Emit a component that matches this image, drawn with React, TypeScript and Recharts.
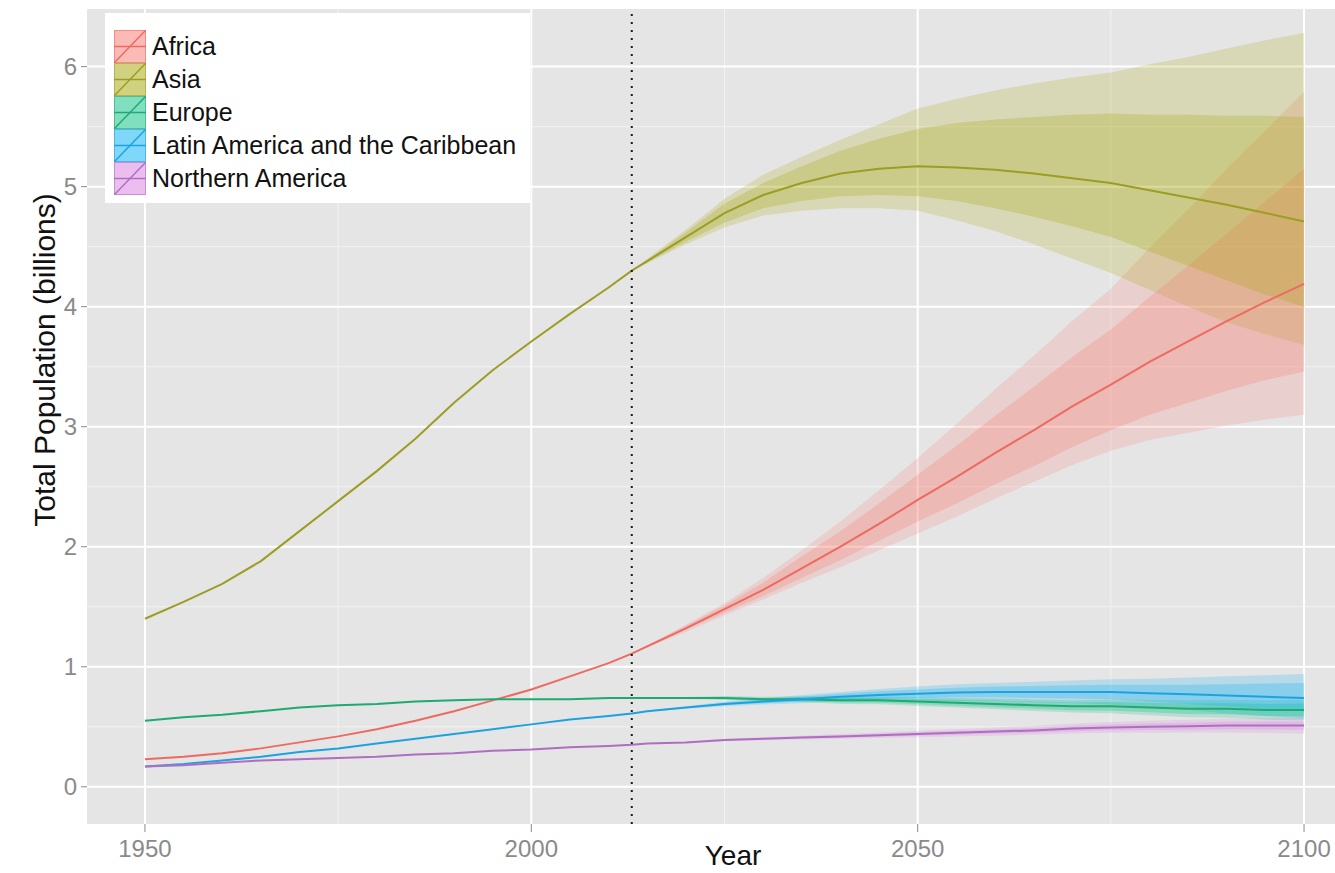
import { ComposedChart, Area, Line, XAxis, YAxis, CartesianGrid, ReferenceLine, Label } from 'recharts'

// years shown on the x axis (history + projection)
const years = [1950, 1955, 1960, 1965, 1970, 1975, 1980, 1985, 1990, 1995, 2000, 2005, 2010, 2013, 2015, 2020, 2025, 2030, 2035, 2040, 2045, 2050, 2055, 2060, 2065, 2070, 2075, 2080, 2085, 2090, 2095, 2100]

// median population, billions
const africa = [0.23, 0.25, 0.28, 0.32, 0.37, 0.42, 0.48, 0.55, 0.63, 0.72, 0.81, 0.92, 1.03, 1.11, 1.17, 1.32, 1.48, 1.64, 1.82, 2.0, 2.19, 2.39, 2.58, 2.78, 2.97, 3.17, 3.35, 3.54, 3.71, 3.88, 4.04, 4.19]
const asia = [1.4, 1.54, 1.69, 1.88, 2.13, 2.38, 2.63, 2.9, 3.2, 3.47, 3.71, 3.94, 4.16, 4.3, 4.38, 4.58, 4.78, 4.93, 5.03, 5.11, 5.15, 5.17, 5.16, 5.14, 5.11, 5.07, 5.03, 4.97, 4.91, 4.85, 4.78, 4.71]
const europe = [0.55, 0.58, 0.6, 0.63, 0.66, 0.68, 0.69, 0.71, 0.72, 0.73, 0.73, 0.73, 0.74, 0.74, 0.74, 0.74, 0.74, 0.73, 0.73, 0.72, 0.72, 0.71, 0.7, 0.69, 0.68, 0.67, 0.67, 0.66, 0.65, 0.65, 0.64, 0.64]
const latinAmerica = [0.17, 0.19, 0.22, 0.25, 0.29, 0.32, 0.36, 0.4, 0.44, 0.48, 0.52, 0.56, 0.59, 0.61, 0.63, 0.66, 0.69, 0.71, 0.73, 0.75, 0.765, 0.775, 0.785, 0.79, 0.79, 0.79, 0.79, 0.78, 0.77, 0.76, 0.75, 0.74]
const northernAmerica = [0.17, 0.18, 0.2, 0.22, 0.23, 0.24, 0.25, 0.27, 0.28, 0.3, 0.31, 0.33, 0.34, 0.35, 0.36, 0.37, 0.39, 0.4, 0.41, 0.42, 0.43, 0.44, 0.45, 0.46, 0.47, 0.485, 0.495, 0.5, 0.505, 0.51, 0.51, 0.51]

// projection intervals (80% inner, 95% outer)
const bandYears = [2013, 2015, 2020, 2025, 2030, 2035, 2040, 2045, 2050, 2055, 2060, 2065, 2070, 2075, 2080, 2085, 2090, 2095, 2100]

const africaInnerLo = [1.11, 1.17, 1.31, 1.45, 1.59, 1.74, 1.89, 2.05, 2.21, 2.36, 2.52, 2.67, 2.83, 2.97, 3.1, 3.2, 3.3, 3.39, 3.46]
const africaInnerHi = [1.11, 1.18, 1.34, 1.51, 1.7, 1.92, 2.13, 2.36, 2.6, 2.84, 3.09, 3.33, 3.58, 3.81, 4.08, 4.34, 4.61, 4.88, 5.15]
const africaOuterLo = [1.11, 1.16, 1.29, 1.43, 1.56, 1.7, 1.83, 1.97, 2.11, 2.25, 2.4, 2.54, 2.68, 2.8, 2.89, 2.95, 3.01, 3.06, 3.1]
const africaOuterHi = [1.11, 1.18, 1.35, 1.53, 1.74, 1.97, 2.21, 2.47, 2.74, 3.02, 3.31, 3.59, 3.88, 4.15, 4.49, 4.81, 5.15, 5.47, 5.79]

const asiaInnerLo = [4.3, 4.37, 4.54, 4.7, 4.82, 4.88, 4.92, 4.93, 4.92, 4.88, 4.82, 4.75, 4.67, 4.58, 4.46, 4.34, 4.22, 4.1, 4.0]
const asiaInnerHi = [4.3, 4.39, 4.62, 4.86, 5.03, 5.17, 5.3, 5.4, 5.48, 5.53, 5.56, 5.58, 5.6, 5.61, 5.6, 5.6, 5.59, 5.59, 5.58]
const asiaOuterLo = [4.3, 4.36, 4.52, 4.66, 4.76, 4.8, 4.82, 4.82, 4.8, 4.72, 4.63, 4.52, 4.4, 4.28, 4.14, 4.0, 3.87, 3.77, 3.68]
const asiaOuterHi = [4.3, 4.4, 4.64, 4.9, 5.1, 5.25, 5.39, 5.52, 5.65, 5.73, 5.8, 5.86, 5.91, 5.95, 6.02, 6.08, 6.15, 6.22, 6.28]

const europeInnerLo = [0.74, 0.74, 0.735, 0.73, 0.718, 0.715, 0.702, 0.7, 0.688, 0.675, 0.662, 0.65, 0.637, 0.634, 0.62, 0.607, 0.604, 0.59, 0.587]
const europeInnerHi = [0.74, 0.74, 0.745, 0.75, 0.742, 0.745, 0.738, 0.74, 0.732, 0.725, 0.718, 0.71, 0.703, 0.706, 0.7, 0.693, 0.696, 0.69, 0.693]
const europeOuterLo = [0.74, 0.74, 0.732, 0.724, 0.71, 0.706, 0.69, 0.688, 0.674, 0.66, 0.645, 0.632, 0.618, 0.613, 0.596, 0.58, 0.576, 0.56, 0.555]
const europeOuterHi = [0.74, 0.74, 0.748, 0.756, 0.75, 0.754, 0.75, 0.752, 0.746, 0.74, 0.735, 0.728, 0.722, 0.727, 0.724, 0.72, 0.724, 0.72, 0.725]

const latinInnerLo = [0.61, 0.63, 0.655, 0.68, 0.695, 0.71, 0.725, 0.735, 0.74, 0.745, 0.745, 0.74, 0.735, 0.73, 0.71, 0.69, 0.67, 0.65, 0.63]
const latinInnerHi = [0.61, 0.63, 0.665, 0.7, 0.725, 0.75, 0.775, 0.795, 0.81, 0.825, 0.835, 0.84, 0.845, 0.85, 0.85, 0.85, 0.855, 0.86, 0.865]
const latinOuterLo = [0.61, 0.625, 0.65, 0.67, 0.685, 0.695, 0.71, 0.715, 0.715, 0.715, 0.715, 0.705, 0.695, 0.685, 0.66, 0.64, 0.61, 0.59, 0.57]
const latinOuterHi = [0.61, 0.635, 0.67, 0.71, 0.735, 0.765, 0.79, 0.815, 0.835, 0.855, 0.865, 0.875, 0.885, 0.895, 0.9, 0.91, 0.92, 0.93, 0.94]

const northInnerLo = [0.35, 0.36, 0.367, 0.385, 0.393, 0.402, 0.41, 0.418, 0.426, 0.434, 0.442, 0.45, 0.463, 0.471, 0.473, 0.476, 0.479, 0.477, 0.475]
const northInnerHi = [0.35, 0.36, 0.373, 0.395, 0.407, 0.418, 0.43, 0.442, 0.454, 0.466, 0.478, 0.49, 0.507, 0.519, 0.527, 0.534, 0.541, 0.543, 0.545]
const northOuterLo = [0.35, 0.358, 0.364, 0.38, 0.387, 0.394, 0.4, 0.407, 0.413, 0.42, 0.426, 0.433, 0.444, 0.45, 0.45, 0.452, 0.453, 0.448, 0.442]
const northOuterHi = [0.35, 0.362, 0.376, 0.4, 0.413, 0.426, 0.44, 0.453, 0.467, 0.48, 0.494, 0.507, 0.526, 0.54, 0.55, 0.558, 0.567, 0.572, 0.578]

const xTicks = [1950, 2000, 2050, 2100]
const xMinor = [1975, 2025, 2075]
const yTicks = [0, 1, 2, 3, 4, 5, 6]
const yMinor = [0.5, 1.5, 2.5, 3.5, 4.5, 5.5]
const projectionStart = 2013

const regions = [
  { key: 'africa', name: 'Africa', fill: '#F8766D', line: '#EE6A61', median: africa, innerLo: africaInnerLo, innerHi: africaInnerHi, outerLo: africaOuterLo, outerHi: africaOuterHi },
  { key: 'asia', name: 'Asia', fill: '#A3A500', line: '#9C9D25', median: asia, innerLo: asiaInnerLo, innerHi: asiaInnerHi, outerLo: asiaOuterLo, outerHi: asiaOuterHi },
  { key: 'europe', name: 'Europe', fill: '#00BF7D', line: '#1FAA72', median: europe, innerLo: europeInnerLo, innerHi: europeInnerHi, outerLo: europeOuterLo, outerHi: europeOuterHi },
  { key: 'latin', name: 'Latin America and the Caribbean', fill: '#00B0F6', line: '#1DA2E0', median: latinAmerica, innerLo: latinInnerLo, innerHi: latinInnerHi, outerLo: latinOuterLo, outerHi: latinOuterHi },
  { key: 'north', name: 'Northern America', fill: '#D77DE0', line: '#B06EC2', median: northernAmerica, innerLo: northInnerLo, innerHi: northInnerHi, outerLo: northOuterLo, outerHi: northOuterHi },
]

const data = years.map((year, i) => {
  const row: Record<string, any> = { year }
  const j = bandYears.indexOf(year)
  regions.forEach((r) => {
    row[r.key] = r.median[i]
    if (j >= 0) {
      row[r.key + 'Inner'] = [r.innerLo[j], r.innerHi[j]]
      row[r.key + 'Outer'] = [r.outerLo[j], r.outerHi[j]]
    }
  })
  return row
})

const FONT = '"Liberation Sans", Arial, Helvetica, sans-serif'
const TICK_GREY = '#8A8A8A'

function LegendBox() {
  return (
    <div style={{ position: 'absolute', left: 105, top: 13, width: 425, height: 190, background: '#fff' }}>
      {regions.map((r, i) => (
        <div
          key={r.key}
          style={{ position: 'absolute', left: 9, top: 17 + i * 33, height: 33, display: 'flex', alignItems: 'center' }}
        >
          <svg width={32} height={33} style={{ display: 'block' }}>
            <rect x={0.5} y={0.5} width={31} height={32} fill={r.fill} fillOpacity={0.5} stroke={r.line} strokeOpacity={0.7} />
            <line x1={0} y1={16.5} x2={32} y2={16.5} stroke={r.line} strokeWidth={1.5} />
            <line x1={0} y1={33} x2={32} y2={0} stroke={r.line} strokeWidth={1.5} />
          </svg>
          <span style={{ marginLeft: 6, fontSize: 25, fontFamily: FONT, color: '#111', whiteSpace: 'nowrap' }}>{r.name}</span>
        </div>
      ))}
    </div>
  )
}

export default function App() {
  return (
    <div style={{ position: 'absolute', left: 0, top: 0, width: 1335, height: 873, overflow: 'hidden', background: '#fff' }}>
      <ComposedChart width={1362} height={873} data={data} margin={{ top: 9, right: 0, bottom: 0, left: 0 }}>
        <CartesianGrid fill="#E5E5E5" stroke="#F2F2F2" strokeWidth={1} horizontalValues={yMinor} verticalValues={xMinor} />
        <CartesianGrid fill="none" stroke="#FFFFFF" strokeWidth={2} horizontalValues={yTicks} verticalValues={xTicks} />
        <XAxis
          dataKey="year"
          type="number"
          domain={[1942.5, 2107.5]}
          allowDataOverflow
          ticks={xTicks}
          interval={0}
          height={49}
          axisLine={false}
          tickLine={{ stroke: TICK_GREY }}
          tickSize={8}
          tickMargin={8}
          tick={{ fill: TICK_GREY, fontSize: 24, fontFamily: FONT }}
        >
          <Label
            content={() => (
              <text x={733} y={865} textAnchor="middle" fontSize={28} fontFamily={FONT} fill="#111">
                Year
              </text>
            )}
          />
        </XAxis>
        <YAxis
          type="number"
          domain={[-0.31, 6.48]}
          allowDataOverflow
          ticks={yTicks}
          interval={0}
          width={87}
          axisLine={false}
          tickLine={{ stroke: TICK_GREY }}
          tickSize={6}
          tickMargin={4}
          tick={{ fill: TICK_GREY, fontSize: 24, fontFamily: FONT }}
        >
          <Label
            content={() => (
              <text x={55} y={360} transform="rotate(-90 55 360)" textAnchor="middle" fontSize={30} fontFamily={FONT} fill="#111">
                Total Population (billions)
              </text>
            )}
          />
        </YAxis>

        {regions.map((r) => (
          <Area
            key={r.key + 'Outer'}
            dataKey={r.key + 'Outer'}
            type="linear"
            stroke="none"
            fill={r.fill}
            fillOpacity={0.2}
            dot={false}
            activeDot={false}
            isAnimationActive={false}
          />
        ))}
        {regions.map((r) => (
          <Area
            key={r.key + 'Inner'}
            dataKey={r.key + 'Inner'}
            type="linear"
            stroke="none"
            fill={r.fill}
            fillOpacity={0.25}
            dot={false}
            activeDot={false}
            isAnimationActive={false}
          />
        ))}
        {regions.map((r) => (
          <Line
            key={r.key}
            dataKey={r.key}
            type="linear"
            stroke={r.line}
            strokeWidth={2}
            dot={false}
            activeDot={false}
            isAnimationActive={false}
          />
        ))}

        <ReferenceLine x={projectionStart} stroke="#1A1A1A" strokeWidth={2} strokeDasharray="2 6" />
      </ComposedChart>
      <LegendBox />
    </div>
  )
}
